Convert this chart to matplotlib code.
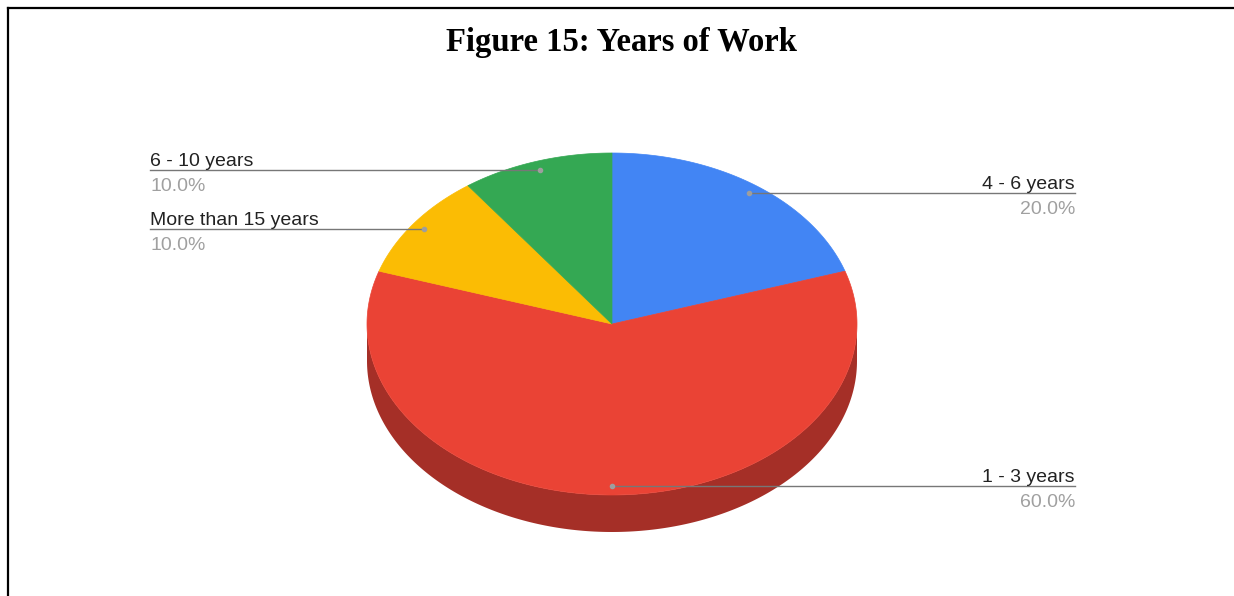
import numpy as np
import matplotlib
matplotlib.use("Agg")
import matplotlib.pyplot as plt
from matplotlib.patches import Polygon

title = "Figure 15: Years of Work"
categories = ["4 - 6 years", "1 - 3 years", "More than 15 years", "6 - 10 years"]
values = [20.0, 60.0, 10.0, 10.0]
colors = ["#4285F4", "#EA4335", "#FBBC04", "#34A853"]
side_colors = ["#2f5fae", "#A52F27", "#b38603", "#257a3b"]

W, H = 1234, 596
fig = plt.figure(figsize=(W / 100, H / 100), dpi=100)
ax = fig.add_axes([0, 0, 1, 1])
ax.set_xlim(0, W)
ax.set_ylim(H, 0)
ax.axis("off")

# frame (left and top edges only visible)
ax.plot([8, 8], [H + 5, 8], color="black", lw=1.6, solid_capstyle="projecting")
ax.plot([8, W + 5], [8, 8], color="black", lw=1.6, solid_capstyle="projecting")

ax.text(622, 51, title, ha="center", va="baseline", fontsize=23.5, fontweight="bold",
        family="Liberation Serif", color="black")

cx, cy, rx, ry, depth = 612, 324, 245, 171, 37


def pt(t, r=1.0):
    a = np.radians(t)
    return cx + r * rx * np.sin(a), cy - r * ry * np.cos(a)


total = sum(values)
angles = np.concatenate([[0], np.cumsum(values) / total * 360])

# sides (front half: 90..270 deg clockwise from top)
for i in range(len(values)):
    a0, a1 = max(angles[i], 90), min(angles[i + 1], 270)
    if a1 <= a0:
        continue
    ts = np.linspace(a0, a1, 200)
    xs, ys = pt(ts)
    poly = np.column_stack([np.concatenate([xs, xs[::-1]]),
                            np.concatenate([ys, ys[::-1] + depth])])
    ax.add_patch(Polygon(poly, closed=True, facecolor=side_colors[i], edgecolor="none", zorder=1))

# top faces
for i in range(len(values)):
    ts = np.linspace(angles[i], angles[i + 1], 300)
    xs, ys = pt(ts)
    poly = np.column_stack([np.concatenate([[cx], xs]), np.concatenate([[cy], ys])])
    ax.add_patch(Polygon(poly, closed=True, facecolor=colors[i], edgecolor=colors[i],
                         lw=0.5, zorder=2))

# labels
name_color = "#222222"
pct_color = "#a0a0a0"
line_color = "#777777"
fs = 14
for i in range(len(values)):
    mid = (angles[i] + angles[i + 1]) / 2
    dx, dy = pt(mid, 0.95)
    pct = f"{values[i] / total * 100:.1f}%"
    if np.sin(np.radians(mid)) >= 0:
        xe = 1075
        ha = "right"
        ax.plot([dx, xe], [dy, dy], color=line_color, lw=1, zorder=3)
    else:
        xe = 150
        ha = "left"
        ax.plot([xe, dx], [dy, dy], color=line_color, lw=1, zorder=3)
    ax.text(xe, dy - 4, categories[i], ha=ha, va="baseline", fontsize=fs,
            family="Liberation Sans", color=name_color)
    ax.text(xe, dy + 21, pct, ha=ha, va="baseline", fontsize=fs,
            family="Liberation Sans", color=pct_color)
    ax.plot([dx], [dy], marker="o", ms=3, color="#9e9e9e", zorder=4)

fig.savefig("out.png", dpi=100)
